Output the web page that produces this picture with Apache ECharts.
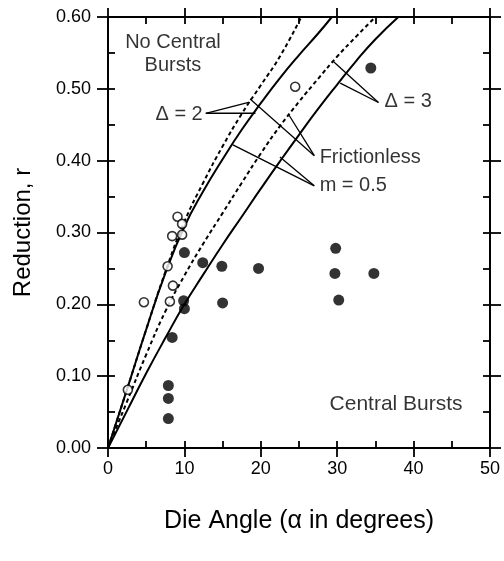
<!DOCTYPE html>
<html><head><meta charset="utf-8">
<script src="https://cdn.jsdelivr.net/npm/echarts@6/dist/echarts.min.js"></script>
<style>html,body{margin:0;padding:0;background:#fff}#c{width:504px;height:561px}</style>
</head><body><div id="c"></div>
<script>
// ---- data ----
const xTickLabels = [0, 10, 20, 30, 40, 50];
const yTickLabels = [0, 0.1, 0.2, 0.3, 0.4, 0.5, 0.6];

// curves [die angle, reduction]
const frictionlessD2 = [[0,0],[2.5,0.082],[5,0.165],[7.5,0.245],[10,0.315],[12.5,0.37],[15,0.42],[17.5,0.465],[20,0.505],[22.5,0.545],[25.3,0.6]];
const m05D2 = [[0,0],[2.5,0.082],[5,0.165],[7.5,0.243],[10,0.308],[12.5,0.358],[15,0.402],[17.5,0.443],[20,0.48],[22.5,0.515],[25,0.547],[27.5,0.577],[29.3,0.6]];
const frictionlessD3 = [[0,0],[2.5,0.065],[5,0.13],[7.5,0.19],[10,0.24],[12.5,0.285],[15,0.327],[17.5,0.369],[20,0.41],[22.5,0.448],[25,0.482],[27.5,0.514],[30,0.545],[32.5,0.573],[35,0.6]];
const m05D3 = [[0,0],[2.5,0.052],[5,0.104],[7.5,0.153],[10,0.2],[12.5,0.242],[15,0.283],[17.5,0.322],[20,0.361],[22.5,0.399],[25,0.436],[27.5,0.472],[30,0.506],[32.5,0.539],[35,0.569],[38,0.6]];

// experiments
const noBurstAngle = [2.6, 4.7, 7.8, 8.1, 8.5, 8.4, 9.1, 9.7, 9.7, 24.5];
const noBurstRed   = [0.081, 0.203, 0.253, 0.204, 0.226, 0.295, 0.322, 0.312, 0.297, 0.503];
const burstAngle = [7.9, 7.9, 7.9, 8.4, 9.9, 10.0, 10.0, 12.4, 14.9, 15.0, 19.7, 29.8, 29.7, 30.2, 34.8, 34.4];
const burstRed   = [0.087, 0.069, 0.041, 0.154, 0.205, 0.194, 0.272, 0.258, 0.253, 0.202, 0.250, 0.278, 0.243, 0.206, 0.243, 0.529];

// annotation texts and leader lines
const annoTexts = ['No Central\nBursts', 'Δ = 2', 'Δ = 3', 'Frictionless', 'm = 0.5', 'Central Bursts'];
const annoAnchors = [[8.5,0.549],[12.4,0.464],[36.2,0.482],[27.7,0.405],[27.7,0.366],[29.0,0.061]];
const annoAlign = ['center','right','left','left','left','left'];
const annoSize = [20, 20, 20, 20, 20, 21];
const leaders = [
  [[12.8,0.466],[18.4,0.481]], [[12.8,0.466],[19.3,0.466]],
  [[35.4,0.481],[29.5,0.538]], [[35.4,0.481],[30.4,0.508]],
  [[27.0,0.407],[18.6,0.486]], [[27.0,0.407],[23.6,0.465]],
  [[27.0,0.365],[16.35,0.422]], [[27.0,0.365],[22.5,0.405]]
];

// ---- chart ----
const FONT = '"Liberation Sans", Arial, Helvetica, sans-serif';
const INK = '#000';
const chart = echarts.init(document.getElementById('c'), null, {renderer:'canvas'});

function xAx(pos, interval, inside, main) {
  return {
    type:'value', position:pos, min:0, max:50, interval:interval,
    axisLine:{show:main, onZero:false, lineStyle:{color:INK, width:2}},
    axisTick:{show:true, inside:inside, length:inside?7:9, lineStyle:{color:INK, width:1.8}},
    axisLabel:{show: main && pos==='bottom', fontSize:18, color:INK, fontFamily:FONT, margin:12},
    splitLine:{show:false},
    name: (main && pos==='bottom') ? 'Die Angle (\u03b1 in degrees)' : '',
    nameLocation:'middle', nameGap:61,
    nameTextStyle:{fontSize:25, color:INK, fontFamily:FONT}
  };
}
function yAx(pos, interval, inside, main) {
  return {
    type:'value', position:pos, min:0, max:0.6, interval:interval,
    axisLine:{show:main, onZero:false, lineStyle:{color:INK, width:2}},
    axisTick:{show:true, inside:inside, length:inside?7:11, lineStyle:{color:INK, width:1.8}},
    axisLabel:{show: main && pos==='left', fontSize:18, color:INK, fontFamily:FONT, margin:17,
      formatter: v => v.toFixed(2)},
    splitLine:{show:false},
    name: (main && pos==='left') ? 'Reduction, r' : '',
    nameLocation:'middle', nameGap:73, nameRotate:90,
    nameTextStyle:{fontSize:24, color:INK, fontFamily:FONT}
  };
}

const series = [];
function curve(data, dashed) {
  series.push({type:'line', data:data, smooth:true, showSymbol:false, symbol:'none', silent:true, z:2,
    lineStyle:{color:INK, width:2, type: dashed ? [4,3] : 'solid'}});
}
curve(frictionlessD2, true);
curve(m05D2, false);
curve(frictionlessD3, true);
curve(m05D3, false);
leaders.forEach(seg => series.push({type:'line', data:seg, showSymbol:false, symbol:'none', silent:true, z:2,
  lineStyle:{color:INK, width:1.3}}));
series.push({type:'scatter', symbol:'circle', symbolSize:9, z:5,
  data: noBurstAngle.map((a,i)=>[a, noBurstRed[i]]),
  itemStyle:{color:'#fff', borderColor:INK, borderWidth:1.6}});
series.push({type:'scatter', symbol:'circle', symbolSize:11, z:5,
  data: burstAngle.map((a,i)=>[a, burstRed[i]]),
  itemStyle:{color:INK, borderColor:INK, borderWidth:0}});
annoTexts.forEach((t,i) => series.push({type:'scatter', symbolSize:0, silent:true, z:6,
  data:[{value:annoAnchors[i], name:t}],
  label:{show:true, position:'inside', formatter:t, align:annoAlign[i], verticalAlign:'middle',
    fontSize:annoSize[i], lineHeight:23, color:INK, fontFamily:FONT}}));

chart.setOption({
  animation:false,
  backgroundColor:'#fff',
  grid:{left:108, right:14, top:17, bottom:113, containLabel:false},
  xAxis:[xAx('bottom',10,false,true), xAx('bottom',5,true,false), xAx('top',10,false,true), xAx('top',5,true,false)],
  yAxis:[yAx('left',0.1,false,true), yAx('left',0.05,true,false), yAx('right',0.1,false,true), yAx('right',0.05,true,false)],
  series: series
});
</script>
</body></html>
